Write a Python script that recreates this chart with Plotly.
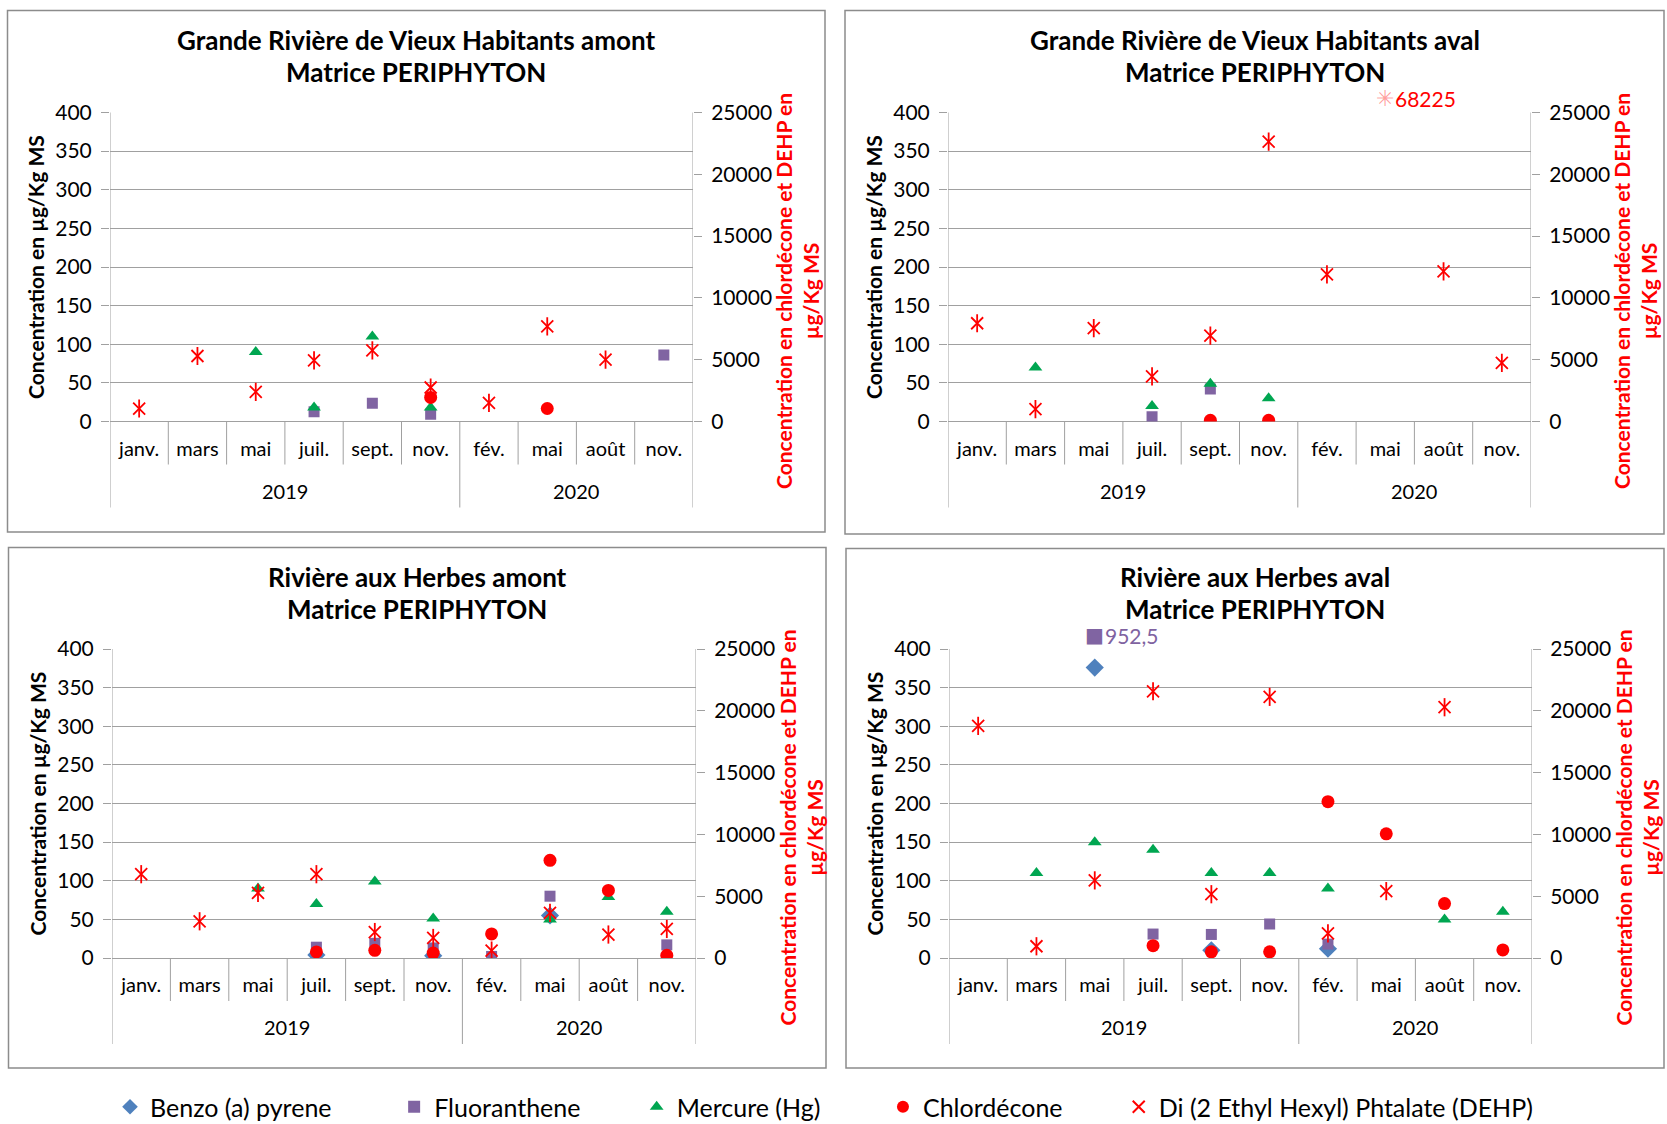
import plotly.graph_objects as go

# ---------------------------------------------------------------- data
MONTHS = ["janv.", "mars", "mai", "juil.", "sept.", "nov.", "fév.", "mai", "août", "nov."]
YEAR_OF_MONTH = ["2019"] * 6 + ["2020"] * 4

SERIES = ["Benzo (a) pyrene", "Fluoranthene", "Mercure (Hg)", "Chlordécone",
          "Di (2 Ethyl Hexyl) Phtalate (DEHP)"]

# Grande Rivière de Vieux Habitants amont
GRVH_AMONT_BENZO = [None, None, None, None, None, None, None, None, None, None]
GRVH_AMONT_FLUO = [None, None, None, 12.5, 23.5, 9.5, None, None, None, 86]
GRVH_AMONT_HG = [None, None, 90, 18, 110, 18, None, None, None, None]
GRVH_AMONT_CLD = [None, None, None, None, None, 1950, None, 1050, None, None]
GRVH_AMONT_DEHP = [1050, 5300, 2400, 4950, 5750, 2750, 1500, 7700, 5000, None]

# Grande Rivière de Vieux Habitants aval
GRVH_AVAL_BENZO = [None, None, None, None, None, None, None, None, None, None]
GRVH_AVAL_FLUO = [None, None, None, 6, 42, None, None, None, None, None]
GRVH_AVAL_HG = [None, 70, None, 20, 49, 30, None, None, None, None]
GRVH_AVAL_CLD = [None, None, None, None, 100, 100, None, None, None, None]
GRVH_AVAL_DEHP = [7950, 1000, 7550, 3650, 6950, 22650, 11900, 68225, 12150, 4750]

# Rivière aux Herbes amont
RAH_AMONT_BENZO = [None, None, None, 4, None, 3, None, 55, None, None]
RAH_AMONT_FLUO = [None, None, None, 14, 19, 13, 2, 80, None, 17]
RAH_AMONT_HG = [None, None, 90, 70, 99, 51, None, 50, 79, 60]
RAH_AMONT_CLD = [None, None, None, 490, 620, 400, 1950, 7900, 5470, 220]
RAH_AMONT_DEHP = [6780, 2970, 5270, 6780, 2100, 1620, 600, 3650, 1900, 2350]

# Rivière aux Herbes aval
RAH_AVAL_BENZO = [None, None, 376, None, 10, None, 12, None, None, None]
RAH_AVAL_FLUO = [None, None, 952.5, 31, 30.5, 44, 18, None, None, None]
RAH_AVAL_HG = [None, 110, 150, 140, 110, 110, 90, None, 50, 60]
RAH_AVAL_CLD = [None, None, None, 1000, 500, 500, 12650, 10050, 4400, 650]
RAH_AVAL_DEHP = [18780, 950, 6280, 21580, 5160, 21130, 1990, 5410, 20290, None]

STATIONS = [
    ("Grande Rivière de Vieux Habitants amont",
     [GRVH_AMONT_BENZO, GRVH_AMONT_FLUO, GRVH_AMONT_HG, GRVH_AMONT_CLD, GRVH_AMONT_DEHP]),
    ("Grande Rivière de Vieux Habitants aval",
     [GRVH_AVAL_BENZO, GRVH_AVAL_FLUO, GRVH_AVAL_HG, GRVH_AVAL_CLD, GRVH_AVAL_DEHP]),
    ("Rivière aux Herbes amont",
     [RAH_AMONT_BENZO, RAH_AMONT_FLUO, RAH_AMONT_HG, RAH_AMONT_CLD, RAH_AMONT_DEHP]),
    ("Rivière aux Herbes aval",
     [RAH_AVAL_BENZO, RAH_AVAL_FLUO, RAH_AVAL_HG, RAH_AVAL_CLD, RAH_AVAL_DEHP]),
]
SUBTITLE = "Matrice PERIPHYTON"

LEFT_MAX = 400
RIGHT_MAX = 25000

# ---------------------------------------------------------------- styling
W, H = 1667, 1124
YTICK_FONT = dict(family="Lato", size=21, color="black")
XTICK_FONT = dict(family="Lato", size=20, color="black")
TITLE_FONT = dict(family="Lato", size=26, color="black", weight="bold")
AXTITLE_FONT = dict(family="Lato", size=21, color="black", weight="bold")
GRID = "#A0A0A0"
RED = "#FF0000"

MARKERS = [
    dict(symbol="diamond", size=14, color="#4F81BD"),
    dict(symbol="square", size=11, color="#8064A2"),
    dict(symbol="triangle-up", size=12, color="#00A651"),
    dict(symbol="circle", size=13, color=RED),
    dict(symbol="x-thin-open", size=12, color=RED, line=dict(width=1.8, color=RED)),
]
LABEL_COLORS = ["#4F81BD", "#7F63A1", "#00A651", RED, RED]
OVER_GLYPH = ["◆", "■", "▲", "●", "✳"]
OVER_GLYPH_COLOR = ["#4F81BD", "#8064A2", "#00A651", RED, "rgba(255,0,0,0.4)"]
OVER_GLYPH_SIZE = [20, 20, 20, 20, 22]
ON_RIGHT = [False, False, False, True, True]
LEGEND_PAD = [9, 8, 9, 8, 0]
OVER_LIFT = 0.045   # overflow symbols sit this fraction of the plot height above the top

# plot rectangles (px): left, right, top, bottom ; panel frames (px)
PLOTS = [(110, 693, 112.5, 421.5), (948, 1531, 112.5, 421.5),
         (112, 696, 649, 958), (949, 1532, 649, 958)]
FRAMES = [(7.5, 825, 10.5, 532), (845, 1664, 10.5, 534),
          (8.5, 826, 547.5, 1068), (846, 1664, 548.5, 1068)]


def px(x):
    return x / W


def py(y):
    return 1 - y / H


def fmt(v):
    return f"{v:g}".replace(".", ",")


fig = go.Figure()
layout = dict(shapes=[], annotations=[])
xs = list(range(len(MONTHS)))

for p, (name, series) in enumerate(STATIONS):
    xa = "x" if p == 0 else f"x{p + 1}"
    yl = "y" if p == 0 else f"y{2 * p + 1}"
    yr = f"y{2 * p + 2}"
    L, R, T, B = PLOTS[p]
    show_leg = (p == 3)

    for s, vals in enumerate(series):
        ya = yr if ON_RIGHT[s] else yl
        axis_max = RIGHT_MAX if ON_RIGHT[s] else LEFT_MAX
        fig.add_trace(go.Scatter(
            x=xs, y=vals, mode="markers",
            name=SERIES[s] + "\u00a0" * LEGEND_PAD[s], marker=MARKERS[s],
            xaxis=xa, yaxis=ya, legendgroup=SERIES[s], showlegend=show_leg,
        ))
        if s == 4:
            # vertical stroke completing the star symbol
            fig.add_trace(go.Scatter(
                x=xs, y=vals, mode="markers", name=SERIES[s],
                marker=dict(symbol="line-ns-open", size=13, color=RED,
                            line=dict(width=1.8, color=RED)),
                xaxis=xa, yaxis=ya, legendgroup=SERIES[s], showlegend=False,
                hoverinfo="skip",
            ))
        # values above the axis maximum: symbol pinned just over the plot, value written
        y_over = py(T) + OVER_LIFT * (py(T) - py(B))
        for i, v in enumerate(vals):
            if v is None or v <= axis_max:
                continue
            layout["annotations"].append(dict(
                x=i, y=y_over, xref=xa, yref="paper", text=OVER_GLYPH[s],
                showarrow=False, xanchor="center", yanchor="middle",
                font=dict(family="DejaVu Sans", size=OVER_GLYPH_SIZE[s],
                          color=OVER_GLYPH_COLOR[s])))
            layout["annotations"].append(dict(
                x=i, y=y_over, xref=xa, yref="paper", text=fmt(v),
                showarrow=False, xanchor="left", yanchor="middle", xshift=8,
                font=dict(family="Lato", size=21, color=LABEL_COLORS[s])))

    sfx = "" if p == 0 else str(p + 1)
    layout[f"xaxis{sfx}"] = dict(
        domain=[px(L), px(R)], anchor=yl, range=[-0.5, len(MONTHS) - 0.5],
        tickvals=xs, ticktext=MONTHS, showgrid=False, zeroline=False,
        showline=False, ticks="", tickfont=XTICK_FONT, ticklabelstandoff=13,
        fixedrange=True,
    )
    lsfx = "" if p == 0 else str(2 * p + 1)
    layout[f"yaxis{lsfx}"] = dict(
        domain=[py(B), py(T)], anchor=xa, range=[0, LEFT_MAX], dtick=50, tick0=0,
        showgrid=True, gridcolor=GRID, gridwidth=1, zeroline=True,
        zerolinecolor=GRID, zerolinewidth=1, ticks="outside", ticklen=8,
        tickcolor=GRID, showline=False, tickfont=YTICK_FONT, ticklabelstandoff=5,
    )
    layout[f"yaxis{2 * p + 2}"] = dict(
        overlaying=yl, side="right", anchor=xa, range=[0, RIGHT_MAX], dtick=5000,
        tick0=0, showgrid=False, zeroline=False, ticks="outside", ticklen=8,
        tickcolor=GRID, showline=False, tickfont=YTICK_FONT, tickformat="d",
        ticklabelstandoff=5,
    )

    # category frame: month separators, year separators and plot edges
    for i in range(len(MONTHS) + 1):
        xpos = i - 0.5
        edge = i in (0, len(MONTHS))
        year_cut = 0 < i < len(MONTHS) and YEAR_OF_MONTH[i] != YEAR_OF_MONTH[i - 1]
        y_top = T if edge else B
        y_bot = B + 86 if (edge or year_cut) else B + 43
        layout["shapes"].append(dict(
            type="line", xref=xa, yref="paper", x0=xpos, x1=xpos,
            y0=py(y_top), y1=py(y_bot), line=dict(color=GRID, width=1),
        ))
    # year labels
    for yr_label in sorted(set(YEAR_OF_MONTH)):
        idx = [i for i, y in enumerate(YEAR_OF_MONTH) if y == yr_label]
        layout["annotations"].append(dict(
            x=(idx[0] + idx[-1]) / 2, y=py(B + 69), xref=xa, yref="paper",
            text=yr_label, showarrow=False, font=XTICK_FONT,
            xanchor="center", yanchor="middle",
        ))

    FL, FR, FT, FB = FRAMES[p]
    cx = (FL + FR) / 2
    layout["annotations"].append(dict(
        x=px(cx), y=py(T - 72), xref="paper", yref="paper", text=name,
        showarrow=False, font=TITLE_FONT, xanchor="center", yanchor="middle"))
    layout["annotations"].append(dict(
        x=px(cx), y=py(T - 40), xref="paper", yref="paper", text=SUBTITLE,
        showarrow=False, font=TITLE_FONT, xanchor="center", yanchor="middle"))
    # axis titles
    layout["annotations"].append(dict(
        x=px(L - 75), y=py((T + B) / 2), xref="paper", yref="paper",
        text="Concentration en µg/Kg MS", textangle=-90, showarrow=False,
        font=AXTITLE_FONT, xanchor="center", yanchor="middle"))
    layout["annotations"].append(dict(
        x=px(R + 104), y=py((T + B) / 2 + 24), xref="paper", yref="paper",
        text="Concentration en chlordécone et DEHP en<br>µg/Kg MS", textangle=-90,
        showarrow=False, font=dict(AXTITLE_FONT, color=RED),
        xanchor="center", yanchor="middle"))
    # chart frame
    layout["shapes"].append(dict(
        type="rect", xref="paper", yref="paper", x0=px(FL), x1=px(FR),
        y0=py(FB), y1=py(FT), line=dict(color="#8C8C8C", width=1.5)))

fig.update_layout(
    width=W, height=H, margin=dict(l=0, r=0, t=0, b=0, autoexpand=False),
    paper_bgcolor="white", plot_bgcolor="white",
    legend=dict(orientation="h", x=px(110), xanchor="left", y=py(1107),
                yanchor="middle", font=dict(family="Lato", size=25, color="black"),
                itemsizing="constant", bgcolor="rgba(0,0,0,0)"),
    **layout,
)

fig.write_html("out.html")
